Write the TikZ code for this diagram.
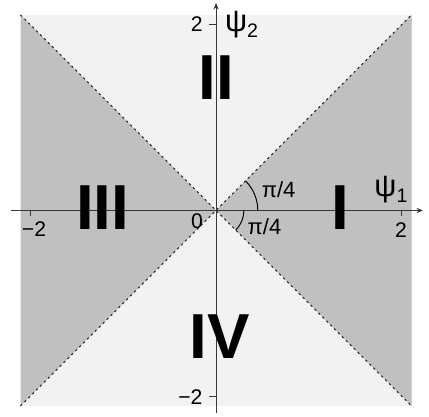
\documentclass[tikz,border=0pt]{standalone}
\usepackage{fontspec}
\setmainfont{Liberation Sans}
\usetikzlibrary{arrows.meta}
\definecolor{lightreg}{gray}{0.95}
\definecolor{darkreg}{gray}{0.753}
\definecolor{axiscol}{gray}{0.22}
\begin{document}
\begin{tikzpicture}[x=2cm,y=2cm,
  axisline/.style={draw=axiscol,line width=0.6pt,-{Stealth[length=4pt,width=3.2pt]}},
  diagline/.style={draw=black!85,line width=0.65pt,dash pattern=on 1.4pt off 2pt},
  tickmark/.style={draw=axiscol,line width=0.6pt},
  anglearc/.style={draw=black,line width=0.6pt},
  roman/.style={font=\fontsize{39}{39}\selectfont\bfseries,inner sep=0pt},
  ticklab/.style={font=\fontsize{13}{13}\selectfont,inner sep=0pt},
  anglab/.style={font=\fontsize{13.5}{13.5}\selectfont,inner sep=0pt},
  psilab/.style={font=\fontsize{19}{19}\selectfont,inner sep=0pt}
]
\useasboundingbox (-2.328,-2.225) rectangle (2.295,2.268);
% regions
\fill[lightreg] (-2.107,-2.107) rectangle (2.107,2.107);
\fill[darkreg] (0,0) -- (2.107,2.107) -- (2.107,-2.107) -- cycle;
\fill[darkreg] (0,0) -- (-2.107,2.107) -- (-2.107,-2.107) -- cycle;
\draw[diagline] (-2.107,-2.107) -- (2.107,2.107);
\draw[diagline] (-2.107,2.107) -- (2.107,-2.107);
% axes
\coordinate (xs) at (-2.209,0);
\coordinate (xe) at (2.23,0);
\coordinate (ys) at (0,-2.179);
\coordinate (ye) at (0,2.236);
\draw[axisline] (xs) -- (xe);
\draw[axisline] (ys) -- (ye);
% ticks
\coordinate (tx1) at (2,0);
\coordinate (tx2) at (-2,0);
\coordinate (ty1) at (0,2);
\coordinate (ty2) at (0,-2);
\draw[tickmark] (tx1) -- ++(0,-0.065);
\draw[tickmark] (tx2) -- ++(0,-0.065);
\draw[tickmark] (ty1) -- ++(-0.08,0);
\draw[tickmark] (ty2) -- ++(-0.08,0);
% tick labels
\node[ticklab] (lx1) at (1.994,-0.21) {2};
\node[ticklab] (lx2) at (-1.961,-0.199) {−2};
\node[ticklab,anchor=east] (ly1) at (-0.14,2.01) {2};
\node[ticklab,anchor=east] (ly2) at (-0.143,-2.01) {−2};
\node[ticklab] (zero) at (-0.205,-0.113) {0};
% axis names
\node[psilab] (psi1) at (1.885,0.225) {ψ\raisebox{-0.35ex}{\fontsize{12}{12}\selectfont 1}};
\node[psilab] (psi2) at (0.275,2.0) {ψ\raisebox{-0.35ex}{\fontsize{12}{12}\selectfont 2}};
% angle arcs
\draw[anglearc] (0.45,0) arc[start angle=0,end angle=45,radius=0.45];
\draw[anglearc] (0.3,0) arc[start angle=0,end angle=-45,radius=0.3];
\node[anglab] (a1) at (0.675,0.221) {π/4};
\node[anglab] (a2) at (0.522,-0.178) {π/4};
% region labels
\node[roman] (rI) at (1.336,0.027) {I};
\node[roman] (rII) at (0.005,1.428) {II};
\node[roman] (rIII) at (-1.223,0.027) {III};
\node[roman] (rIV) at (0.04,-1.363) {IV};
\end{tikzpicture}
\end{document}
